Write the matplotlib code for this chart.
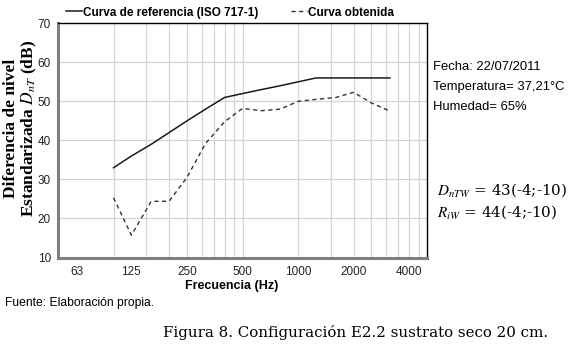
import numpy as np
import matplotlib
matplotlib.use('Agg')
import matplotlib.pyplot as plt

# Bandas de tercio de octava (Hz)
freq = [100, 125, 160, 200, 250, 315, 400, 500, 630, 800,
        1000, 1250, 1600, 2000, 2500, 3150]
# Curva de referencia ISO 717-1 (dB)
ref_curve = [33, 36, 39, 42, 45, 48, 51, 52, 53, 54,
             55, 56, 56, 56, 56, 56]
# Curva obtenida (dB)
measured = [25.3, 15.7, 24.4, 24.4, 30.5, 39.2, 44.8, 48.2, 47.6, 48.0,
            50.0, 50.5, 51.0, 52.3, 49.6, 47.5]

xtick_vals = [63, 125, 250, 500, 1000, 2000, 4000]
xtick_labels = ['63', '125', '250', '500', '1000', '2000', '4000']
yticks = [10, 20, 30, 40, 50, 60, 70]

plt.rcParams['font.family'] = ['Liberation Sans', 'DejaVu Sans']
plt.rcParams['mathtext.fontset'] = 'stix'

fig = plt.figure(figsize=(5.8, 3.45), dpi=100)
ax = fig.add_axes([58/580, 1 - 257.5/345, (427-58)/580, (257.5-23.3)/345])

ax.set_xscale('log')
ax.set_xlim(50, 5000)
ax.set_ylim(10, 70)

# rejilla tipo Excel (log base 10, min 50)
grid_x = list(np.arange(100, 500, 50)) + [500] + list(np.arange(1000, 5000, 500))
for gx in grid_x:
    ax.axvline(gx, color='#d4d4d4', lw=0.9, zorder=0)
for gy in yticks[1:-1]:
    ax.axhline(gy, color='#d4d4d4', lw=0.9, zorder=0)

ax.plot(freq, ref_curve, color='#1a1a1a', lw=1.1, label='Curva de referencia (ISO 717-1)')
ax.plot(freq, measured, color='#333333', lw=1.0, linestyle=(0, (3, 2.5)), label='Curva obtenida')

ax.set_xticks(xtick_vals)
ax.set_xticklabels(xtick_labels)
ax.xaxis.set_minor_locator(matplotlib.ticker.NullLocator())
ax.set_yticks(yticks)
ax.tick_params(axis='both', length=0, labelsize=8.5, colors='#222222')
ax.tick_params(axis='x', pad=6)
ax.tick_params(axis='y', pad=5)

for s in ['left', 'bottom']:
    ax.spines[s].set_color('#7f7f7f')
    ax.spines[s].set_linewidth(2.2)
for s in ['top', 'right']:
    ax.spines[s].set_color('#000000')
    ax.spines[s].set_linewidth(1.0)

fig.text(232/580, 1 - 286/345, 'Frecuencia (Hz)', fontsize=9, fontweight='bold',
         ha='center', va='center')
fig.text(21/580, 1 - 128/345, 'Diferencia de nivel\nEstandarizada $\\boldsymbol{D_{nT}}$ (dB)',
         rotation=90, ha='center', va='center', fontsize=12.5, fontweight='bold',
         family='Liberation Serif', linespacing=1.0)

leg = fig.legend(loc='upper left', bbox_to_anchor=(55/580, 1 + 4/345), ncol=2, frameon=False,
                 handlelength=1.4, handletextpad=0.1, columnspacing=2.7,
                 prop={'weight': 'bold', 'size': 8.5})

fig.text(433/580, 1 - 67/345, 'Fecha: 22/07/2011', fontsize=9.4, va='center')
fig.text(433/580, 1 - 87/345, 'Temperatura= 37,21°C', fontsize=9.4, va='center')
fig.text(433/580, 1 - 107/345, 'Humedad= 65%', fontsize=9.4, va='center')

fig.text(437/580, 1 - 190/345, '$D_{nTW}$ = 43(-4;-10)', fontsize=10.9, va='center',
         family='DejaVu Serif')
fig.text(437/580, 1 - 212/345, '$R_{iW}$ = 44(-4;-10)', fontsize=10.9, va='center',
         family='DejaVu Serif')

fig.text(5/580, 1 - 303/345, 'Fuente: Elaboración propia.', fontsize=8.7, va='center')
fig.text(163/580, 1 - 332/345, 'Figura 8. Configuración E2.2 sustrato seco 20 cm.',
         fontsize=10.8, va='center', family='DejaVu Serif')

fig.savefig('out.png', dpi=100)
